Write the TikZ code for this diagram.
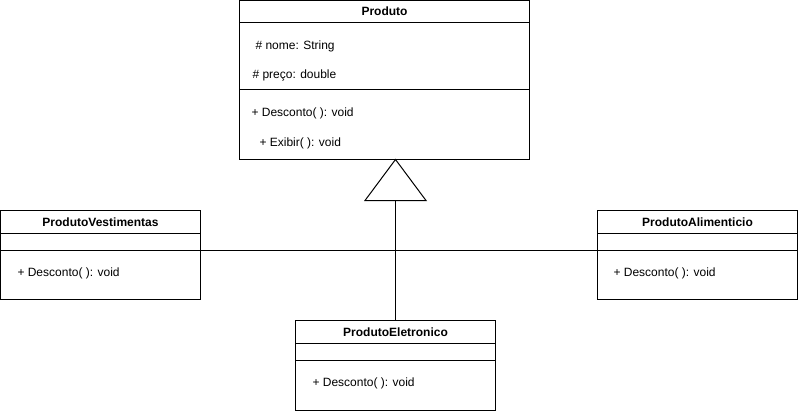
\documentclass[tikz,border=0pt]{standalone}
\usepackage{fontspec}
\setmainfont{Liberation Sans}
\usetikzlibrary{positioning}
\tikzset{
	part/.style={draw,rectangle,inner sep=0pt,outer sep=0pt,minimum width=200pt},
	title/.style={part,minimum height=23pt,font=\fontsize{12}{14}\selectfont\bfseries},
	member/.style={anchor=west,inner sep=0pt,font=\fontsize{12}{14}\selectfont}
}
\begin{document}
\begin{tikzpicture}[x=1pt,y=-1pt,line width=1pt]
			\useasboundingbox (0,0) rectangle (799,412);
			% superclass
			\node[title,minimum width=290pt,minimum height=22pt,anchor=north west] (prod) at (239.5,0.5) {Produto};
			\node[part,minimum width=290pt,minimum height=67pt,below=0pt of prod] (prodattr) {};
			\node[part,minimum width=290pt,minimum height=70pt,below=0pt of prodattr] (prodops) {};
			\node[member] (nome) at (255,46) {\# nome: String};
			\node[member] (preco) at (252,75.5) {\# preço: double};
			\node[member] (desc) at (251,113.5) {+ Desconto( ): void};
			\node[member] (exib) at (259,143.5) {+ Exibir( ): void};
			% subclasses
			\node[title,anchor=north west] (vest) at (0.5,210.5) {ProdutoVestimentas};
			\node[part,minimum height=17pt,below=0pt of vest] (vestattr) {};
			\node[part,minimum height=49pt,below=0pt of vestattr] (vestops) {};
			\node[member] (vestdesc) at (17,273.5) {+ Desconto( ): void};
			\node[title,anchor=north west] (alim) at (597.5,210.5) {ProdutoAlimenticio};
			\node[part,minimum height=17pt,below=0pt of alim] (alimattr) {};
			\node[part,minimum height=49pt,below=0pt of alimattr] (alimops) {};
			\node[member] (alimdesc) at (613,273.5) {+ Desconto( ): void};
			\node[title,anchor=north west] (elet) at (295.5,320.5) {ProdutoEletronico};
			\node[part,minimum height=17pt,below=0pt of elet] (eletattr) {};
			\node[part,minimum height=50pt,below=0pt of eletattr] (eletops) {};
			\node[member] (eletdesc) at (312,383.5) {+ Desconto( ): void};
			% generalization
			\coordinate (apex) at (elet.north |- prodops.south);
			\path (apex) ++(0,41) coordinate (base);
			\draw (apex) -- ++(-30.5,41) -- ++(61,0) -- cycle;
			\draw (base) -- (elet.north);
			\draw (vestops.north east) -- (alimops.north west);
		\end{tikzpicture}
\end{document}
